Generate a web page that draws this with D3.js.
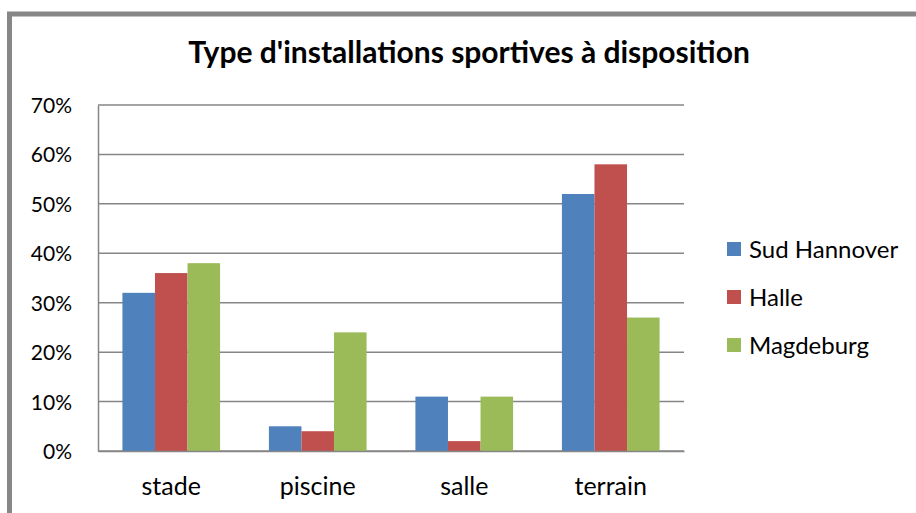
<!DOCTYPE html>
<html>
<head>
<meta charset="utf-8">
<script src="https://cdn.jsdelivr.net/npm/d3@7"></script>
<style>
  body { margin: 0; background: #fff; }
  svg text { font-family: Lato, "Open Sans", sans-serif; fill: #000; }
</style>
</head>
<body>
<div id="chart"></div>
<script>
var width = 916;
var height = 513;

// data
var categories = ["stade", "piscine", "salle", "terrain"];
var seriesNames = ["Sud Hannover", "Halle", "Magdeburg"];
var sudHannover = [0.32, 0.05, 0.11, 0.52];
var halle = [0.36, 0.04, 0.02, 0.58];
var magdeburg = [0.38, 0.24, 0.11, 0.27];
var yTicks = [0, 0.1, 0.2, 0.3, 0.4, 0.5, 0.6, 0.7];
var colors = ["#4F81BD", "#C0504D", "#9BBB59"];

var allSeries = [sudHannover, halle, magdeburg];

var margin = {top: 105, left: 98, right: 232, bottom: 62};
var plotW = width - margin.left - margin.right;
var plotH = height - margin.top - margin.bottom;

var svg = d3.select("#chart").append("svg")
    .attr("width", width)
    .attr("height", height);

// outer frame (only left and top visible)
svg.append("rect")
    .attr("x", 9.5).attr("y", 14)
    .attr("width", 1000).attr("height", 1000)
    .attr("fill", "none")
    .attr("stroke", "#878787")
    .attr("stroke-width", 5);

svg.append("text")
    .attr("x", 469).attr("y", 63)
    .attr("text-anchor", "middle")
    .style("font-size", "30px")
    .style("font-weight", "bold")
    .text("Type d'installations sportives à disposition");

var g = svg.append("g")
    .attr("transform", "translate(" + margin.left + "," + margin.top + ")");

var x0 = d3.scaleBand().domain(categories).range([0, plotW]).paddingInner(0).paddingOuter(0);
var x1 = d3.scaleBand().domain(seriesNames)
    .range([x0.bandwidth() * 0.75 / 4.5, x0.bandwidth() - x0.bandwidth() * 0.75 / 4.5]);
var y = d3.scaleLinear().domain([0, 0.7]).range([plotH, 0]);

// gridlines
g.append("g")
  .selectAll("line")
  .data(yTicks)
  .enter().append("line")
    .attr("x1", 0).attr("x2", plotW)
    .attr("y1", d => y(d)).attr("y2", d => y(d))
    .attr("stroke", "#868686")
    .attr("stroke-width", 1.5);

// bars
var groups = g.selectAll(".grp")
    .data(categories)
    .enter().append("g")
    .attr("class", "grp")
    .attr("transform", d => "translate(" + x0(d) + ",0)");

groups.selectAll("rect")
    .data(function(d, i) {
        return seriesNames.map(function(s, j) { return {s: s, v: allSeries[j][i], c: colors[j]}; });
    })
    .enter().append("rect")
    .attr("x", d => x1(d.s))
    .attr("y", d => y(d.v))
    .attr("width", x1.bandwidth())
    .attr("height", d => plotH - y(d.v))
    .attr("fill", d => d.c);

// axes
var yAxis = d3.axisLeft(y).tickValues(yTicks).tickSize(0).tickPadding(26)
    .tickFormat(d3.format(".0%"));
var ay = g.append("g").call(yAxis);
ay.select(".domain").attr("stroke", "#868686").attr("stroke-width", 1.5);
ay.selectAll("text").style("font-size", "21px").attr("dy", "0.36em");

var xAxis = d3.axisBottom(x0).tickSize(0).tickPadding(28);
var ax = g.append("g").attr("transform", "translate(0," + plotH + ")").call(xAxis);
ax.select(".domain").attr("stroke", "#868686").attr("stroke-width", 1.5);
ax.selectAll("text").style("font-size", "25px").attr("dy", "0.62em");

// legend
var legend = svg.append("g").attr("transform", "translate(727,249)");
var items = legend.selectAll(".item")
    .data(seriesNames)
    .enter().append("g")
    .attr("transform", (d, i) => "translate(0," + i * 48 + ")");
items.append("rect")
    .attr("x", 0).attr("y", -7)
    .attr("width", 14).attr("height", 14)
    .attr("fill", (d, i) => colors[i]);
items.append("text")
    .attr("x", 22).attr("y", 0).attr("dy", "0.36em")
    .style("font-size", "24px")
    .text(d => d);
</script>
</body>
</html>
